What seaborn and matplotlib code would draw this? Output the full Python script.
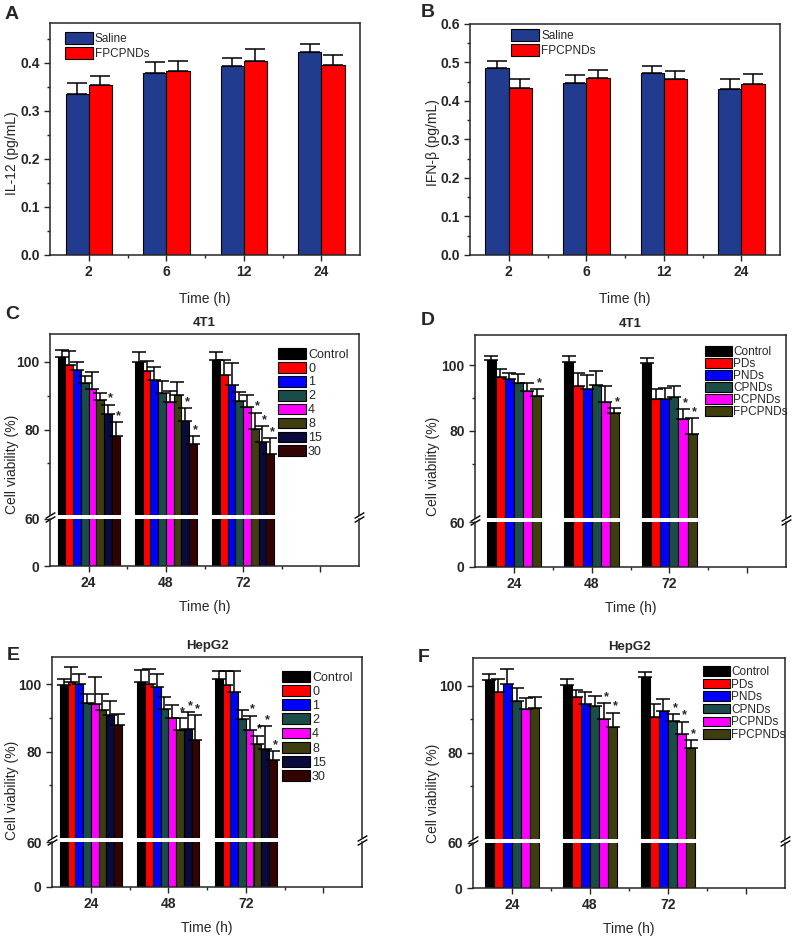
import matplotlib
matplotlib.use('Agg')
import matplotlib.pyplot as plt
import matplotlib.ticker as mticker
from matplotlib.patches import Patch
import pandas as pd
import seaborn as sns

# ---- data ----
# A / B: cytokines
cyto_times = ['2', '6', '12', '24']
cyto_groups = ['Saline', 'FPCPNDs']
cyto_colors = ['#213b8f', '#ff0000']
il12_mean = [[0.336, 0.378, 0.393, 0.423], [0.353, 0.383, 0.403, 0.396]]
il12_err = [[0.022, 0.023, 0.017, 0.017], [0.019, 0.020, 0.026, 0.021]]
ifnb_mean = [[0.485, 0.448, 0.474, 0.431], [0.435, 0.461, 0.458, 0.445]]
ifnb_err = [[0.019, 0.020, 0.017, 0.025], [0.022, 0.020, 0.020, 0.025]]

# C-F: cell viability (rows = group, cols = time)
via_times = ['24', '48', '72']
dose_groups = ['Control', '0', '1', '2', '4', '8', '15', '30']
dose_colors = ['#000000', '#ff0000', '#0000ff', '#1b4d48', '#ff00ff', '#3d3d0e', '#0a0a3c', '#330303']
form_groups = ['Control', 'PDs', 'PNDs', 'CPNDs', 'PCPNDs', 'FPCPNDs']
form_colors = ['#000000', '#ff0000', '#0000ff', '#1b4d48', '#ff00ff', '#3d3d0e']

c_mean = [[101.5, 99.8, 100.5], [99.1, 97.3, 96.2], [97.6, 94.6, 93.3], [93.6, 90.9, 88.5],
          [91.9, 88.1, 86.7], [88.6, 90.3, 80.2], [84.5, 82.5, 76.4], [78.2, 75.6, 72.9]]
c_err = [[2.1, 3.0, 2.3], [4.0, 2.8, 4.3], [2.4, 3.9, 6.2], [2.2, 3.4, 2.6],
         [5.1, 3.4, 3.4], [2.1, 3.6, 4.8], [2.9, 3.8, 4.6], [4.0, 2.6, 4.7]]
c_stars = [('15', '24'), ('30', '24'), ('15', '48'), ('30', '48'), ('8', '72'), ('15', '72'), ('30', '72')]

d_mean = [[101.5, 100.8, 100.7], [96.3, 93.6, 89.6], [95.7, 92.7, 89.6],
          [94.6, 94.0, 90.4], [92.2, 88.9, 83.5], [90.5, 85.4, 79.0]]
d_err = [[1.3, 1.9, 1.5], [2.6, 3.9, 3.2], [2.0, 4.3, 3.5],
         [2.8, 4.2, 3.2], [2.3, 4.6, 3.1], [2.1, 1.5, 4.8]]
d_stars = [('FPCPNDs', '24'), ('FPCPNDs', '48'), ('PCPNDs', '72'), ('FPCPNDs', '72')]

e_mean = [[99.8, 100.8, 101.5], [100.8, 100.0, 99.8], [100.2, 99.2, 97.8], [94.6, 92.6, 89.6],
          [94.1, 89.9, 86.3], [92.3, 86.3, 82.2], [90.8, 86.7, 80.8], [87.8, 83.6, 77.4]]
e_err = [[1.8, 3.5, 2.3], [4.2, 4.5, 4.0], [2.8, 4.0, 6.0], [2.6, 3.6, 2.7],
         [8.2, 3.9, 4.4], [4.9, 3.6, 2.6], [4.2, 5.0, 6.8], [3.4, 7.3, 2.8]]
e_stars = [('8', '48'), ('15', '48'), ('30', '48'), ('4', '72'), ('8', '72'), ('15', '72'), ('30', '72')]

f_mean = [[101.8, 100.2, 102.5], [98.2, 96.5, 90.6], [100.6, 94.7, 92.5],
          [95.4, 94.0, 89.5], [93.0, 90.0, 85.7], [93.5, 87.7, 81.3]]
f_err = [[1.6, 1.7, 1.7], [3.8, 2.2, 4.1], [4.4, 3.3, 3.4],
         [3.8, 2.9, 2.1], [3.2, 4.9, 3.6], [3.0, 4.3, 2.5]]
f_stars = [('PCPNDs', '48'), ('FPCPNDs', '48'), ('CPNDs', '72'), ('PCPNDs', '72'), ('FPCPNDs', '72')]

# ---- style ----
sns.set_style('ticks')
plt.rcParams['font.family'] = ['Liberation Sans', 'DejaVu Sans']
plt.rcParams['axes.linewidth'] = 1.1
plt.rcParams['xtick.major.width'] = 1.0
plt.rcParams['ytick.major.width'] = 1.0
plt.rcParams['xtick.minor.width'] = 1.0
plt.rcParams['ytick.minor.width'] = 1.0

W, H = 793, 936
fig = plt.figure(figsize=(W / 100, H / 100), dpi=100)


def px_axes(left, top, right, bottom):
    return fig.add_axes([left / W, 1 - bottom / H, (right - left) / W, (bottom - top) / H])


def to_frame(times, groups, means):
    rows = []
    for g, vals in zip(groups, means):
        for t, v in zip(times, vals):
            rows.append({'time': t, 'group': g, 'value': v})
    return pd.DataFrame(rows)


def draw_bars(ax, times, groups, colors, means, width):
    df = to_frame(times, groups, means)
    order = times + [''] * (4 - len(times))
    sns.barplot(data=df, x='time', y='value', hue='group', order=order, hue_order=groups,
                palette=dict(zip(groups, colors)), width=width, saturation=1,
                edgecolor='black', linewidth=0.8, errorbar=None, legend=False, ax=ax)
    ax.set_xlim(-0.5, 3.5)
    ax.set_xlabel('')
    ax.set_ylabel('')


def draw_errors(ax, times, groups, errors, stars=(), capsize=5):
    conts = list(ax.containers)
    for i, cont in enumerate(conts):
        for bar in cont:
            x = bar.get_x() + bar.get_width() / 2
            h = bar.get_height()
            j = int(round(x))
            e = errors[i][j]
            ax.errorbar(x, h, yerr=[[0], [e]], fmt='none', ecolor='black',
                        elinewidth=1.1, capsize=capsize, capthick=1.1, zorder=3)
            if (groups[i], times[j]) in stars:
                ax.text(x + bar.get_width() * 0.3, h + e, '*', ha='center', va='bottom',
                        fontsize=9, fontweight='bold')


def bold_ticks(ax):
    for lbl in ax.get_xticklabels() + ax.get_yticklabels():
        lbl.set_fontweight('bold')
        lbl.set_fontsize(10)


def add_legend(ax, groups, colors, x, y, fs, hh, hl, ls):
    handles = [Patch(facecolor=c, edgecolor='black', linewidth=0.8) for c in colors]
    ax.legend(handles, groups, loc='upper left', bbox_to_anchor=(x, y), frameon=False,
              borderaxespad=0, borderpad=0, fontsize=fs, handleheight=hh, handlelength=hl,
              labelspacing=ls, handletextpad=0.15)


def cyto_panel(box, means, errors, ylabel, ymax, major, label_xy, leg_xy, letter, letter_xy):
    ax = px_axes(*box)
    draw_bars(ax, cyto_times, cyto_groups, cyto_colors, means, 0.6)
    draw_errors(ax, cyto_times, cyto_groups, errors, capsize=7)
    ax.set_ylim(0, ymax)
    ax.yaxis.set_major_locator(mticker.FixedLocator(major))
    ax.yaxis.set_minor_locator(mticker.MultipleLocator(0.05))
    ax.yaxis.set_major_formatter(mticker.FormatStrFormatter('%.1f'))
    ax.xaxis.set_minor_locator(mticker.FixedLocator([0.5, 1.5, 2.5]))
    ax.tick_params(which='major', direction='out', length=4)
    ax.tick_params(which='minor', direction='out', length=2.5)
    ax.set_xlabel('Time (h)', fontsize=10, labelpad=9)
    ax.set_ylabel(ylabel, fontsize=10)
    ax.yaxis.set_label_coords(*label_xy)
    bold_ticks(ax)
    add_legend(ax, cyto_groups, cyto_colors, leg_xy[0], leg_xy[1], 8.5, 1.15, 2.4, 0.2)
    fig.text(letter_xy[0] / W, 1 - letter_xy[1] / H, letter, fontsize=14, fontweight='bold',
             va='top', ha='left')


def viability_panel(top_box, low_box, groups, colors, means, errors, stars, width, ylim,
                    title, label_xy, leg_xy, leg_style, letter, letter_xy):
    up = px_axes(*top_box)
    lo = px_axes(*low_box)
    for ax in (up, lo):
        draw_bars(ax, via_times, groups, colors, means, width)
    draw_errors(up, via_times, groups, errors, stars, capsize=5)

    up.set_ylim(*ylim)
    up.yaxis.set_major_locator(mticker.FixedLocator([80, 100]))
    up.yaxis.set_minor_locator(mticker.FixedLocator([70, 90]))
    up.spines['bottom'].set_visible(False)
    up.tick_params(axis='x', which='both', bottom=False, labelbottom=False)
    up.tick_params(axis='y', which='major', direction='out', length=4)
    up.tick_params(axis='y', which='minor', direction='out', length=2.5)

    lo.set_ylim(0, 60)
    lo.yaxis.set_major_locator(mticker.FixedLocator([0, 60]))
    lo.spines['top'].set_visible(False)
    lo.xaxis.set_minor_locator(mticker.FixedLocator([0.5, 1.5, 2.5]))
    lo.tick_params(which='major', direction='out', length=4)
    lo.tick_params(which='minor', direction='out', length=2.5)
    lo.set_xlabel('Time (h)', fontsize=10, labelpad=7)

    # break marks
    kw = dict(marker=[(-1, -0.6), (1, 0.6)], markersize=7, linestyle='none',
              color='k', mec='k', mew=1.0, clip_on=False)
    up.plot([0, 1], [0, 0], transform=up.transAxes, **kw)
    lo.plot([0, 1], [1, 1], transform=lo.transAxes, **kw)

    up.set_title(title, fontsize=9.5, fontweight='bold', pad=6)
    up.set_ylabel('Cell viability (%)', fontsize=10)
    up.yaxis.set_label_coords(*label_xy)
    bold_ticks(up)
    bold_ticks(lo)
    add_legend(up, groups, colors, leg_xy[0], leg_xy[1], *leg_style)
    fig.text(letter_xy[0] / W, 1 - letter_xy[1] / H, letter, fontsize=14, fontweight='bold',
             va='top', ha='left')


cyto_panel((50, 23, 360, 255), il12_mean, il12_err, 'IL-12 (pg/mL)', 0.483,
           [0.0, 0.1, 0.2, 0.3, 0.4], (-0.1, 0.44), (0.048, 0.961), 'A', (5, 6))
cyto_panel((470, 24, 780, 255), ifnb_mean, ifnb_err, 'IFN-β (pg/mL)', 0.6,
           [0.0, 0.1, 0.2, 0.3, 0.4, 0.5, 0.6], (-0.097, 0.485), (0.132, 0.978), 'B', (421, 4))

viability_panel((50, 334, 359, 515), (50, 519, 359, 566), dose_groups, dose_colors,
                c_mean, c_err, c_stars, 0.8, (54.8, 108.2), '4T1', (-0.1, 0.28),
                (0.738, 0.923), (9, 0.95, 2.25, 0.1), 'C', (5, 306))
viability_panel((475, 335, 786, 518), (475, 522, 786, 567), form_groups, form_colors,
                d_mean, d_err, d_stars, 0.7, (53.6, 109.1), '4T1', (-0.113, 0.28),
                (0.74, 0.94), (8.5, 0.85, 2.25, 0.0), 'D', (421, 312))
viability_panel((52, 657, 362, 838), (52, 842, 362, 887), dose_groups, dose_colors,
                e_mean, e_err, e_stars, 0.8, (54.4, 108.1), 'HepG2', (-0.106, 0.265),
                (0.742, 0.923), (9, 0.95, 2.25, 0.12), 'E', (7, 647))
viability_panel((473, 658, 785, 839), (473, 843, 785, 888), form_groups, form_colors,
                f_mean, f_err, f_stars, 0.7, (54.2, 108.3), 'HepG2', (-0.106, 0.254),
                (0.737, 0.956), (8.5, 0.85, 2.25, 0.05), 'F', (418, 649))

fig.savefig('out.png', dpi=100)
